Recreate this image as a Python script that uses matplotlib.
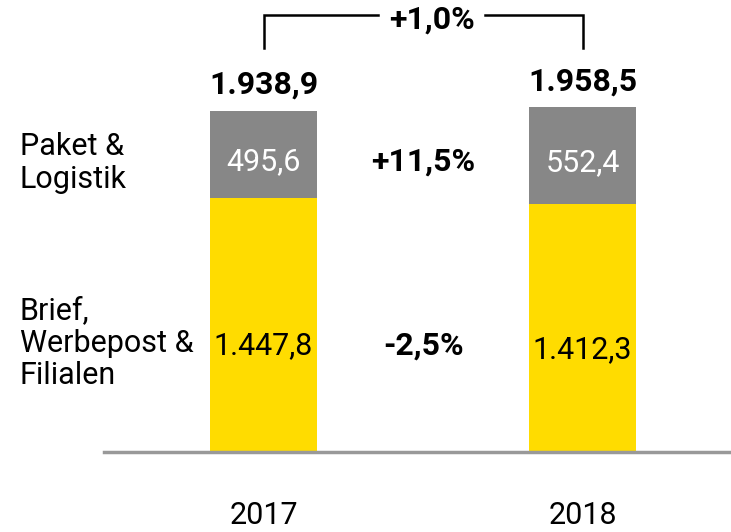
import matplotlib
matplotlib.use("Agg")
import matplotlib.pyplot as plt

years = ["2017", "2018"]
brief = [1447.8, 1412.3]
paket = [495.6, 552.4]
totals = [1938.9, 1958.5]
brief_labels = ["1.447,8", "1.412,3"]
paket_labels = ["495,6", "552,4"]
total_labels = ["1.938,9", "1.958,5"]
change_total = "+1,0%"
change_paket = "+11,5%"
change_brief = "-2,5%"
seg_names = ["Paket &\nLogistik", "Brief,\nWerbepost &\nFilialen"]

YELLOW = "#FFDC00"
GRAY = "#878787"
plt.rcParams['font.family'] = ['Roboto', 'DejaVu Sans']

W, H = 731, 532
fig = plt.figure(figsize=(W / 100, H / 100), dpi=100)
ax = fig.add_axes([104 / W, 80 / H, 627 / W, 452 / H])
x = [0, 1]
width = 0.335
ax.bar(x, brief, width=width, color=YELLOW, zorder=2)
ax.bar(x, paket, width=width, bottom=brief, color=GRAY, zorder=2)

ax.set_xlim(-0.5, 1.465)
ymax = 1938.9 * 452 / 340
ax.set_ylim(0, ymax)
for s in ["top", "right", "left"]:
    ax.spines[s].set_visible(False)
ax.spines["bottom"].set_color("#999999")
ax.spines["bottom"].set_linewidth(2.5)
ax.set_yticks([])
ax.set_xticks(x)
fs = 22
fsb = 23
ax.set_xticklabels(years, fontsize=fs)
ax.tick_params(axis="x", length=0, pad=35)

px = ymax / 452.0
for i in range(2):
    ax.text(x[i], brief[i] / 2 - 21 * px, brief_labels[i], ha="center", va="center",
            fontsize=fs, color="black")
    ax.text(x[i], brief[i] + paket[i] / 2 - 7 * px, paket_labels[i], ha="center",
            va="center", fontsize=fs, color="white")
    ax.text(x[i], totals[i] + 12 * px, total_labels[i], ha="center", va="bottom",
            fontsize=fsb, fontweight="bold", color="black")

ax.text(0.5, brief[0] + paket[0] / 2 - 7 * px, change_paket, ha="center", va="center",
        fontsize=fsb, fontweight="bold")
ax.text(0.5, brief[0] / 2 - 21 * px, change_brief, ha="center", va="center",
        fontsize=fsb, fontweight="bold")

# bracket
yb = 404 * px
yt = 437 * px
ax.plot([x[0], x[0], 0.359], [yb, yt, yt], color="black", lw=1.8, clip_on=False,
        solid_joinstyle="miter")
ax.plot([0.694, x[1], x[1]], [yt, yt, yb], color="black", lw=1.8, clip_on=False,
        solid_joinstyle="miter")
ax.text(0.528, yt - 5 * px, change_total, ha="center", va="center", fontsize=fsb,
        fontweight="bold")

# segment names
fig.text(20 / W, 1 - 163 / H, seg_names[0], ha="left", va="center", fontsize=fs,
         linespacing=1.15)
fig.text(20 / W, 1 - 343 / H, seg_names[1], ha="left", va="center", fontsize=fs,
         linespacing=1.15)

fig.savefig("out.png", dpi=100)
